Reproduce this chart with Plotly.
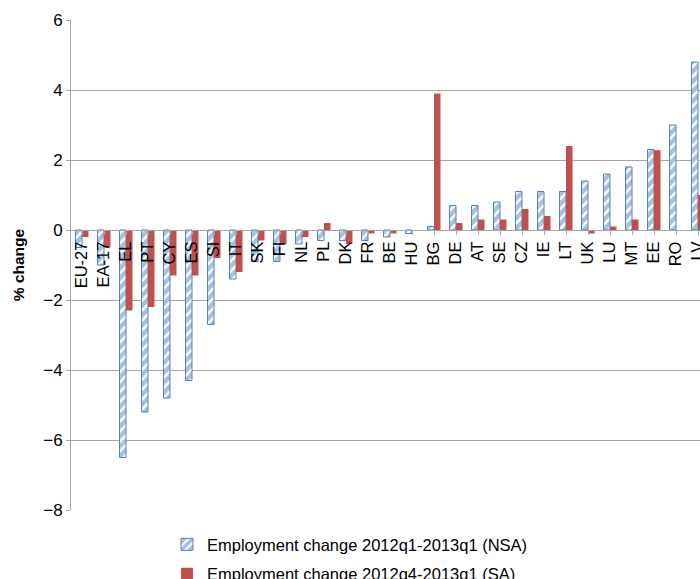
import plotly.graph_objects as go

categories = ["EU-27", "EA-17", "EL", "PT", "CY", "ES", "SI", "IT", "SK", "FI", "NL", "PL", "DK",
              "FR", "BE", "HU", "BG", "DE", "AT", "SE", "CZ", "IE", "LT", "UK", "LU", "MT", "EE",
              "RO", "LV"]
nsa_values = [-0.5, -1.0, -6.5, -5.2, -4.8, -4.3, -2.7, -1.4, -0.9, -0.9, -0.4, -0.3, -0.3,
              -0.3, -0.2, -0.1, 0.1, 0.7, 0.7, 0.8, 1.1, 1.1, 1.1, 1.4, 1.6, 1.8, 2.3, 3.0, 4.8]
sa_values = [-0.2, -0.5, -2.3, -2.2, -1.3, -1.3, -0.8, -1.2, -0.3, -0.4, -0.2, 0.2, -0.4,
             -0.1, -0.1, 0.0, 3.9, 0.2, 0.3, 0.3, 0.6, 0.4, 2.4, -0.1, 0.1, 0.3, 2.28, 0.0, 1.0]
nsa_name = "Employment change 2012q1-2013q1 (NSA)"
sa_name = "Employment change 2012q4-2013q1 (SA)"
y_ticks = [-8, -6, -4, -2, 0, 2, 4, 6]

FONT = "Arial, Liberation Sans, sans-serif"
BLUE = "#4F81BD"
RED = "#C0504D"
GRID = "#A6A6A6"

x_idx = list(range(len(categories)))

fig = go.Figure()
fig.add_trace(go.Bar(
    x=x_idx, y=nsa_values, name=nsa_name, legendgroup="a",
    marker=dict(color="white", line=dict(color=BLUE, width=1),
                pattern=dict(shape="/", fgcolor=BLUE, bgcolor="white", size=7, solidity=0.65)),
))
fig.add_trace(go.Bar(
    x=x_idx, y=sa_values, name=sa_name, legendgroup="b",
    marker=dict(color=RED, line=dict(width=0)),
))

fig.update_layout(
    width=700, height=579,
    margin=dict(l=71, r=0, t=20, b=69, autoexpand=False),
    paper_bgcolor="white", plot_bgcolor="white",
    font=dict(family=FONT, size=16, color="black"),
    barmode="group", bargap=0.41, bargroupgap=0,
    showlegend=True,
    legend=dict(orientation="v", x=0.1526, y=-0.035, xanchor="left", yanchor="top",
                font=dict(family=FONT, size=16.5, color="black"),
                traceorder="grouped", tracegroupgap=5, itemwidth=30,
                bgcolor="rgba(0,0,0,0)"),
    xaxis=dict(
        range=[-0.5, 28.09], anchor="free", position=8 / 14, automargin=False,
        tickmode="array", tickvals=x_idx, ticktext=categories,
        tickangle=-90, showline=True, linecolor=GRID, linewidth=1,
        ticks="outside", ticklen=4, tickcolor=GRID, tickson="boundaries",
        ticklabeloverflow="allow",
        showgrid=False, zeroline=False,
        tickfont=dict(family=FONT, size=16.5, color="black"),
    ),
    yaxis=dict(
        range=[-8, 6], tickvals=y_ticks, showgrid=True, gridcolor=GRID, gridwidth=1,
        zeroline=False, showline=True, linecolor=GRID, linewidth=1, automargin=False,
        ticks="outside", ticklen=4, tickcolor=GRID,
        tickfont=dict(family=FONT, size=17, color="black"),
        title=dict(text="<b>% change</b>", font=dict(family=FONT, size=15.5, color="black"), standoff=14),
    ),
)

fig.write_html("out.html", config={"displayModeBar": False},
               post_script="document.body.style.margin='0';document.body.style.overflow='hidden';")
